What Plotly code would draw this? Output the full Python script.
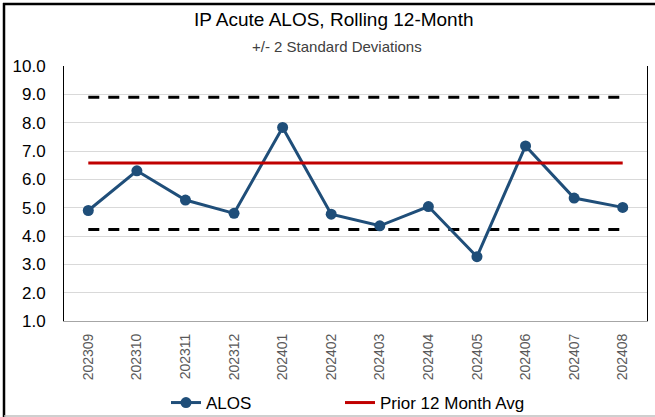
import plotly.graph_objects as go

categories = ["202309", "202310", "202311", "202312", "202401", "202402",
              "202403", "202404", "202405", "202406", "202407", "202408"]
alos = [4.9, 6.3, 5.27, 4.8, 7.83, 4.77, 4.36, 5.04, 3.27, 7.18, 5.34, 5.01]
prior_avg = [6.58] * 12
upper_2sd = [8.9] * 12
lower_2sd = [4.23] * 12
y_ticks = [1, 2, 3, 4, 5, 6, 7, 8, 9, 10]

FONT = "Liberation Sans"
W, H = 655, 417
L, R, T, B = 64, 8, 66, 96
pw, ph = W - L - R, H - T - B

def px(x):
    return (x - L) / pw

def py(y):
    return (H - B - y) / ph

fig = go.Figure()
fig.add_trace(go.Scatter(x=categories, y=upper_2sd, mode="lines", showlegend=False,
                         line=dict(color="black", width=3, dash="11px,9px"), hoverinfo="skip"))
fig.add_trace(go.Scatter(x=categories, y=lower_2sd, mode="lines", showlegend=False,
                         line=dict(color="black", width=3, dash="11px,9px"), hoverinfo="skip"))
fig.add_trace(go.Scatter(x=categories, y=alos, mode="lines+markers", name="ALOS",
                         line=dict(color="#1F4E79", width=3),
                         marker=dict(color="#1F4E79", size=11), legend="legend"))
fig.add_trace(go.Scatter(x=categories, y=prior_avg, mode="lines", name="Prior 12 Month Avg",
                         line=dict(color="#C00000", width=3), legend="legend2"))

leg_common = dict(orientation="h", xanchor="left", y=py(403), yanchor="middle",
                  font=dict(size=17, color="black"), itemwidth=30,
                  bgcolor="rgba(0,0,0,0)")

fig.update_layout(
    width=W, height=H,
    margin=dict(l=L, r=R, t=T, b=B, autoexpand=False),
    paper_bgcolor="white", plot_bgcolor="white",
    font=dict(family=FONT, color="black"),
    showlegend=True,
    legend=dict(x=px(166), **leg_common),
    legend2=dict(x=px(340), **leg_common),
    xaxis=dict(type="category", range=[-0.5, 11.5], tickangle=-90, showgrid=False,
               tickfont=dict(size=14, color="#595959"), ticks="", showline=True,
               linecolor="#A6A6A6", linewidth=1, mirror=False, fixedrange=True,
               ticklabelstandoff=6),
    yaxis=dict(range=[1, 10], tickvals=y_ticks, tickformat=".1f", showgrid=True,
               gridcolor="#D9D9D9", gridwidth=1, tickfont=dict(size=17, color="black"),
               ticklabelstandoff=14, showline=True, linecolor="black", linewidth=1,
               mirror=True, zeroline=False, fixedrange=True),
    annotations=[
        dict(text="IP Acute ALOS, Rolling 12-Month", xref="paper", yref="paper",
             x=px(334), y=py(20), xanchor="center", yanchor="middle", showarrow=False,
             font=dict(size=19, color="black", family=FONT)),
        dict(text="+/- 2 Standard Deviations", xref="paper", yref="paper",
             x=px(337), y=py(46), xanchor="center", yanchor="middle", showarrow=False,
             font=dict(size=15, color="#404040", family=FONT)),
    ],
    shapes=[
        dict(type="line", xref="paper", yref="paper", x0=px(4), x1=px(4), y0=py(3), y1=py(417),
             line=dict(color="black", width=2.5)),
        dict(type="line", xref="paper", yref="paper", x0=px(3), x1=px(655), y0=py(4), y1=py(4),
             line=dict(color="black", width=2.5)),
        dict(type="line", xref="paper", yref="paper", x0=px(4), x1=px(655), y0=py(416), y1=py(416),
             line=dict(color="#BFBFBF", width=1.5)),
    ],
)

fig.write_html("out.html", config={"displayModeBar": False},
               post_script="document.body.style.margin='0';document.body.style.overflow='hidden';")
